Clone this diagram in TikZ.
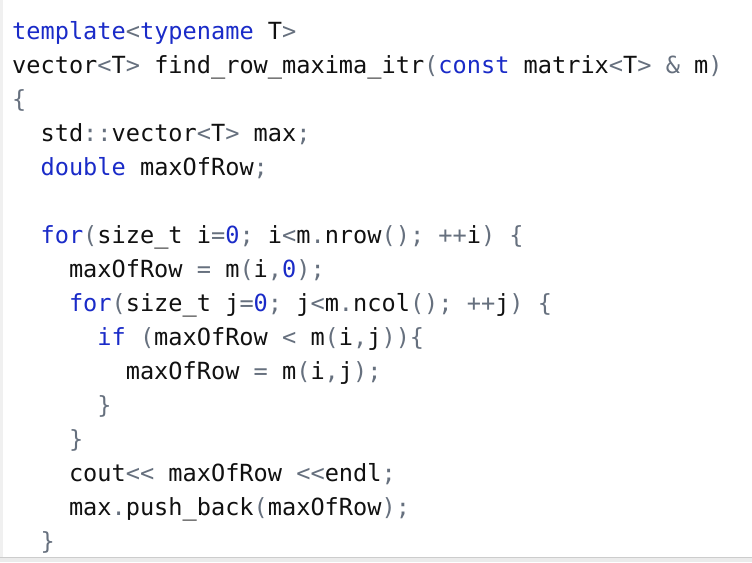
\documentclass[tikz,border=0pt]{standalone}
\usepackage{fontspec}
\setmonofont{DejaVu Sans Mono}
\definecolor{kwc}{HTML}{1A2BC8}
\definecolor{opc}{HTML}{66707E}
\definecolor{txc}{HTML}{111111}
\newcommand{\kw}[1]{\textcolor{kwc}{#1}}
\newcommand{\opx}[1]{\textcolor{opc}{#1}}
\tikzset{codeline/.style={anchor=base west,inner sep=0pt,font=\ttfamily\fontsize{23.6pt}{28pt}\selectfont,text=txc}}
\newcommand{\cl}[3]{\node[codeline] (#1) at ({12pt+#2*14.2pt},{-39pt-34pt*\lnum}) {#3};}
\begin{document}
\begin{tikzpicture}[x=1pt,y=1pt]
\useasboundingbox (0,0) rectangle (752,-562);
\fill[white] (0,0) rectangle (752,-562);
\fill[black!8] (0,-557) rectangle (752,-562);
\draw[black!20] (0,-557) -- (752,-557);
\fill[black!6] (0,0) rectangle (3,-557);
\def\lnum{0}\cl{l1}{0}{\kw{template}\opx{<}\kw{typename} T\opx{>}}
\def\lnum{1}\cl{l2}{0}{vector\opx{<}T\opx{>} find\_row\_maxima\_itr\opx{(}\kw{const} matrix\opx{<}T\opx{>} \opx{\&} m\opx{)}}
\def\lnum{2}\cl{l3}{0}{\opx{\{}}
\def\lnum{3}\cl{l4}{2}{std\opx{::}vector\opx{<}T\opx{>} max\opx{;}}
\def\lnum{4}\cl{l5}{2}{\kw{double} maxOfRow\opx{;}}
\def\lnum{6}\cl{l7}{2}{\kw{for}\opx{(}size\_t i\opx{=}\kw{0}\opx{;} i\opx{<}m\opx{.}nrow\opx{();} \opx{++}i\opx{)} \opx{\{}}
\def\lnum{7}\cl{l8}{4}{maxOfRow \opx{=} m\opx{(}i\opx{,}\kw{0}\opx{);}}
\def\lnum{8}\cl{l9}{4}{\kw{for}\opx{(}size\_t j\opx{=}\kw{0}\opx{;} j\opx{<}m\opx{.}ncol\opx{();} \opx{++}j\opx{)} \opx{\{}}
\def\lnum{9}\cl{l10}{6}{\kw{if} \opx{(}maxOfRow \opx{<} m\opx{(}i\opx{,}j\opx{))\{}}
\def\lnum{10}\cl{l11}{8}{maxOfRow \opx{=} m\opx{(}i\opx{,}j\opx{);}}
\def\lnum{11}\cl{l12}{6}{\opx{\}}}
\def\lnum{12}\cl{l13}{4}{\opx{\}}}
\def\lnum{13}\cl{l14}{4}{cout\opx{<<} maxOfRow \opx{<<}endl\opx{;}}
\def\lnum{14}\cl{l15}{4}{max\opx{.}push\_back\opx{(}maxOfRow\opx{);}}
\def\lnum{15}\cl{l16}{2}{\opx{\}}}
\end{tikzpicture}
\end{document}
